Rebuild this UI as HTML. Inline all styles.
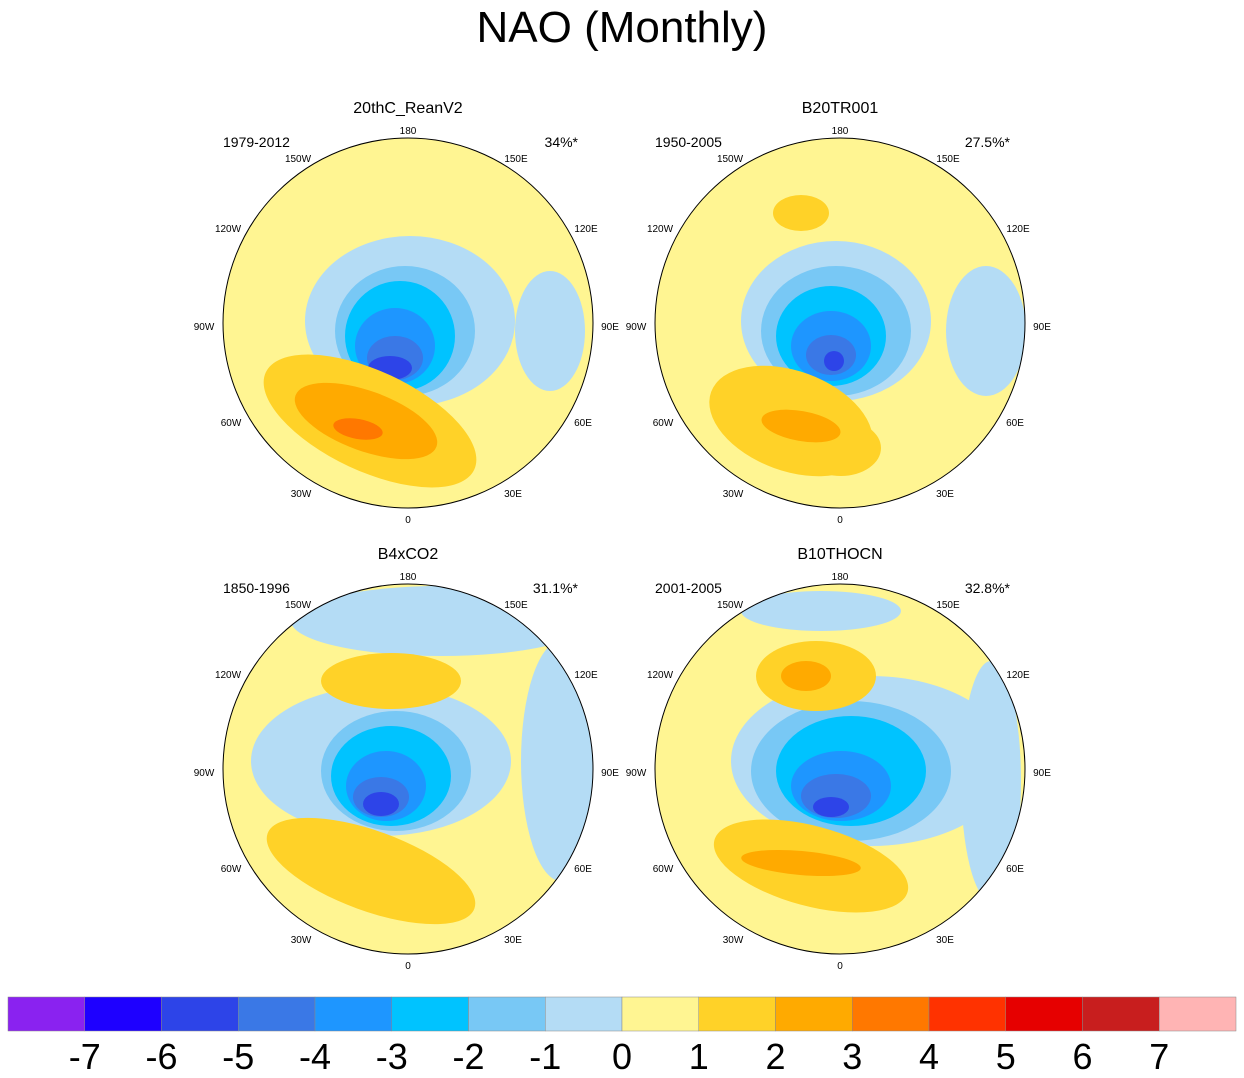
<!DOCTYPE html>
<html><head><meta charset="utf-8"><style>
html,body{margin:0;padding:0;background:#fff;}
svg{display:block;font-family:"Liberation Sans",sans-serif;}
</style></head><body>
<svg id="chart" width="1244" height="1078" viewBox="0 0 1244 1078">
<text x="622" y="42" font-size="44" text-anchor="middle">NAO (Monthly)</text>
<g id="panels"></g>
<g id="colorbar"></g>
</svg>
<script>
const levelColors=["#8a22f0","#1e00ff","#2d44e8","#3a78e6","#1e96ff","#00c3ff","#78c8f5","#b4dcf5","#fff592","#ffd228","#ffaa00","#ff7800","#ff3200","#e60000","#c81e1e","#ffb4b4"];
const tickLabels=["-7","-6","-5","-4","-3","-2","-1","0","1","2","3","4","5","6","7"];
const panelTitles=["20thC_ReanV2","B20TR001","B4xCO2","B10THOCN"];
const panelYears=["1979-2012","1950-2005","1850-1996","2001-2005"];
const panelPct=["34%*","27.5%*","31.1%*","32.8%*"];
// blobs: [dx, dy, rx, ry, rotation, value]  (offsets relative to panel center)
const blobs0=[[2,-2,105,85,0,-1],[142,8,35,60,0,-1],[-3,8,70,65,0,-2],[-8,13,55,55,0,-3],[-13,23,40,38,0,-4],[-13,35,28,22,0,-5],[-18,45,22,12,0,-6],[-38,98,115,50,25,2],[-42,98,75,30,20,3],[-50,106,25,10,10,4]];
const blobs1=[[-4,-2,95,80,0,-1],[146,8,40,65,0,-1],[-4,8,75,65,0,-2],[-9,13,55,50,0,-3],[-9,23,40,35,0,-4],[-9,32,25,20,0,-5],[-6,38,10,10,0,-6],[-49,98,85,50,20,2],[1,125,40,28,0,2],[-39,103,40,15,10,3],[-39,-110,28,18,0,2]];
const blobs2=[[-27,-8,130,75,0,-1],[33,-148,150,35,0,-1],[153,-8,40,120,0,-1],[-17,-88,70,28,0,2],[-37,102,110,40,20,2],[-12,2,75,60,0,-2],[-17,7,60,50,0,-3],[-22,17,40,35,0,-4],[-27,28,28,20,0,-5],[-27,35,18,12,0,-6]];
const blobs3=[[31,-8,140,85,0,-1],[151,12,30,120,0,-1],[-19,-158,80,20,0,-1],[11,2,100,70,0,-2],[11,2,75,55,0,-3],[1,17,50,35,0,-4],[-4,27,35,22,0,-5],[-9,38,18,10,0,-6],[-24,-93,60,35,0,2],[-34,-93,25,15,0,3],[-29,97,100,40,15,2],[-39,94,60,12,5,3]];
const allBlobs=[blobs0,blobs1,blobs2,blobs3];
const centers=[[408,323],[840,323],[408,769],[840,769]];
const R=185;
const NS="http://www.w3.org/2000/svg";
function colorFor(v){return levelColors[v>0?v+7:v+8];}
function mk(tag,attrs,parent){const e=document.createElementNS(NS,tag);for(const k in attrs)e.setAttribute(k,attrs[k]);parent.appendChild(e);return e;}
const panels=document.getElementById('panels');
const lonLabels=[["180",0,-193],["0",0,196],["90W",-204,3],["90E",202,3],["150W",-110,-165],["150E",108,-165],["120W",-180,-95],["120E",178,-95],["60W",-177,99],["60E",175,99],["30W",-107,170],["30E",105,170]];
centers.forEach((c,i)=>{
  const g=mk('g',{},panels);
  
  
  const defs=mk('defs',{},g);
  const cp=mk('clipPath',{id:'clip'+i},defs);
  mk('circle',{cx:c[0],cy:c[1],r:R},cp);
  const t=mk('text',{x:c[0],y:c[1]-210,'font-size':16,'text-anchor':'middle'},g);t.textContent=panelTitles[i];
  
  const y=mk('text',{x:c[0]-185,y:c[1]-176,'font-size':14},g);y.textContent=panelYears[i];
  
  const p=mk('text',{x:c[0]+170,y:c[1]-176,'font-size':14,'text-anchor':'end'},g);p.textContent=panelPct[i];
  
  const inner=mk('g',{'clip-path':'url(#clip'+i+')'},g);
  const bg=mk('circle',{cx:c[0],cy:c[1],r:R,fill:colorFor(1)},inner);
  
  allBlobs[i].forEach(b=>{
    const e=mk('ellipse',{cx:c[0]+b[0],cy:c[1]+b[1],rx:b[2],ry:b[3],fill:colorFor(b[5]),transform:'rotate('+b[4]+' '+(c[0]+b[0])+' '+(c[1]+b[1])+')'},inner);
    
  });
  const rim=mk('circle',{cx:c[0],cy:c[1],r:R,fill:'none',stroke:'#000','stroke-width':1},g);
  
  lonLabels.forEach(l=>{
    const e=mk('text',{x:c[0]+l[1],y:c[1]+l[2]+4,'font-size':10,'text-anchor':'middle'},g);e.textContent=l[0];
    
  });
});
const cb=document.getElementById('colorbar');
const x0=8,x1=1236,bw=(x1-x0)/levelColors.length;
levelColors.forEach((col,i)=>{
  const r=mk('rect',{x:x0+i*bw,y:997,width:bw,height:34,fill:col,stroke:'#888','stroke-width':0.5},cb);
  
});
tickLabels.forEach((t,i)=>{
  const e=mk('text',{x:x0+(i+1)*bw,y:1069,'font-size':36,'text-anchor':'middle'},cb);e.textContent=t;
  
});
</script>
</body></html>
